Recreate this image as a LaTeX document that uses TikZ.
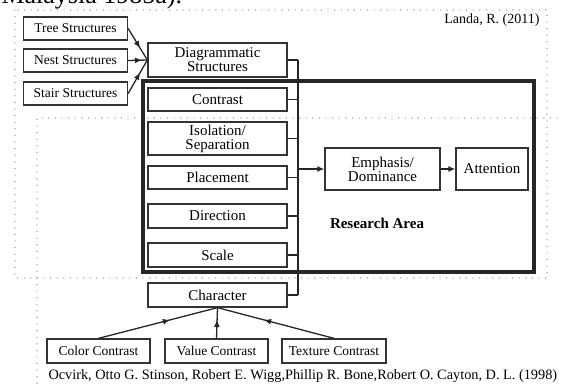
\documentclass[tikz,border=0pt]{standalone}
\usepackage{fontspec}
\setmainfont{Liberation Serif}
\usetikzlibrary{arrows.meta,decorations.markings}

\begin{document}
\begin{tikzpicture}[x=1pt,y=-1pt]
    \tikzset{box/.style = {draw=black!80, line width=1.3pt, fill=white, inner sep=0pt, align=center,
        minimum width=139pt, minimum height=23pt, font=\fontsize{15}{14}\selectfont}}
    \tikzset{smallbox/.style = {box, minimum width=104pt, font=\fontsize{13.5}{14}\selectfont}}
    \tikzset{link/.style = {draw=black!85, line width=1.3pt}}
    \tikzset{tip/.style = {-{Latex[length=7pt,width=6pt]}}}
    \tikzset{midarrow/.style = {link, postaction={decorate},
        decoration={markings, mark=at position #1 with {\arrow{Latex[length=7pt,width=6pt]}}}}}
    \tikzset{dots/.style = {draw=black!45, line width=1.4pt, line cap=round, dash pattern=on 0pt off 6.6pt}}

    \useasboundingbox (0,0) rectangle (561,385);

    % frames
    \draw[dots] (15,10) rectangle (547,278);
    \draw[dots] (557,118) -- (37,118) -- (37,385);
    \draw[black!85, line width=4pt] (143,81) rectangle (534,272);
    \node[anchor=base west, font=\fontsize{26}{26}\selectfont] (malaysia) at (-2,4) {Malaysia 1985a).};

    % vertices
    \node[smallbox] (tree) at (75.5,28.5) {Tree Structures};
    \node[smallbox] (nest) at (75.5,60.5) {Nest Structures};
    \node[smallbox] (stair) at (75.5,93.5) {Stair Structures};
    \node[box, minimum height=34pt] (diag) at (217.5,60) {Diagrammatic\\Structures};
    \node[box] (contrast) at (217.5,99.5) {Contrast};
    \node[box, minimum height=33pt] (isolation) at (217.5,138.5) {Isolation/\\Separation};
    \node[box] (placement) at (217.5,177.5) {Placement};
    \node[box, minimum height=24pt] (direction) at (217.5,216) {Direction};
    \node[box, minimum height=24pt] (scale) at (217.5,255) {Scale};
    \node[box, minimum height=24pt] (character) at (217.5,295) {Character};
    \node[box, minimum width=115pt, minimum height=42pt] (emphasis) at (382.5,169) {Emphasis/\\Dominance};
    \node[box, minimum width=72pt, minimum height=42pt] (attention) at (492,169) {Attention};
    \node[smallbox, minimum width=103pt, minimum height=24pt] (color) at (98.5,351) {Color Contrast};
    \node[smallbox, minimum width=103pt, minimum height=24pt] (value) at (216.5,351) {Value Contrast};
    \node[smallbox, minimum height=24pt] (texture) at (334,351) {Texture Contrast};

    % labels
    \node[anchor=east, font=\fontsize{14}{14}\selectfont] (landa) at (543,20) {Landa, R. (2011)};
    \node[font=\fontsize{15}{15}\selectfont\bfseries] (area) at (377,223) {Research Area};
    \node[anchor=west, font=\fontsize{14.3}{14}\selectfont] (ocvirk) at (45,376)
        {Ocvirk, Otto G. Stinson, Robert E. Wigg,Phillip R. Bone,Robert O. Cayton, D. L. (1998)};

    % edges
    \coordinate (bustop) at (298,60);
    \coordinate (busbot) at (298,295);
    \draw[link] (bustop) -- (busbot);
    \foreach \n in {diag, contrast, isolation, placement, direction, scale, character}
        \draw[link] (\n.east) -- (\n.east -| bustop);
    \draw[link, tip] (emphasis.west -| bustop) -- (emphasis);
    \draw[link, tip] (emphasis) -- (attention);
    \draw[midarrow=0.62] (tree.east) -- (diag.west);
    \draw[midarrow=0.72] (nest.east) -- (diag.west);
    \draw[midarrow=0.62] (stair.east) -- (diag.west);
    \draw[midarrow=0.6] (color.north) -- (character.south);
    \draw[midarrow=0.6] (value.north) -- (character.south);
    \draw[midarrow=0.6] (texture.north) -- (character.south);
\end{tikzpicture}
\end{document}
